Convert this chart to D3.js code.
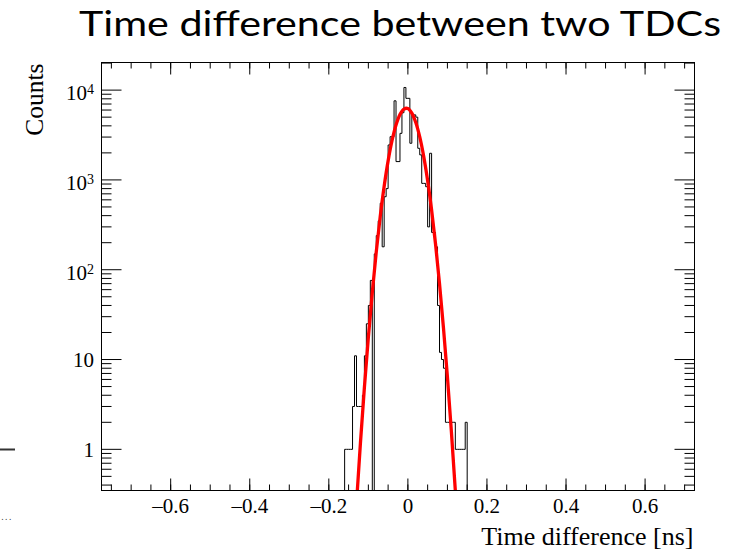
<!DOCTYPE html>
<html>
<head>
<meta charset="utf-8">
<script src="https://cdn.jsdelivr.net/npm/d3@7"></script>
<style>
  body { margin: 0; background: #fff; }
  svg { display: block; }
  .tick line { stroke: #000; }
</style>
</head>
<body>
<svg width="732" height="552"></svg>
<script>
// histogram range, as booked
var histMin = -0.775, histMax = 0.725;
var yMin = 0.348, yMax = 20300;

// filled bins (0.005 ns wide) starting at histLow, counts
var histLow = -0.160;
var binWidth = 0.005;
var counts = [1, 1, 1, 1, 3, 11, 3, 3, 3, 4,
              11, 25, 40, 76, 0, 150, 240, 350, 550, 180,
              650, 800, 2450, 3030, 3030, 7600, 1600, 1600, 3300, 5600,
              10700, 8100, 8100, 2560, 5300, 5300, 5000, 2250, 1900, 915,
              915, 840, 300, 1980, 260, 260, 180, 40, 12, 10,
              8, 2, 2, 2, 2, 2, 1, 1, 1, 1,
              1, 2, 0];

// gaussian fit curve
var fitX = [-0.14, -0.13, -0.12, -0.11, -0.10, -0.09, -0.08, -0.07, -0.06, -0.05,
            -0.04, -0.03, -0.02, -0.01, 0.00, 0.01, 0.02, 0.03, 0.04, 0.05,
            0.06, 0.07, 0.08, 0.09, 0.10, 0.11, 0.12, 0.13];
var fitY = [0.047, 0.25, 1.18, 4.9, 17.6, 56, 158, 390, 850, 1630,
            2750, 4090, 5350, 6150, 6240, 5560, 4360, 3010, 1830, 980,
            462, 192, 70, 22.5, 6.4, 1.58, 0.347, 0.067];

var xMajor = [-0.6, -0.4, -0.2, 0, 0.2, 0.4, 0.6];
var yMajor = [1, 10, 100, 1000, 10000];
var yLabels = [["1", ""], ["10", ""], ["10", "2"], ["10", "3"], ["10", "4"]];

(function() {
  var svg = d3.select("svg");

  var fLeft = 101.5, fRight = 694.5, fTop = 62.5, fBottom = 490.5;

  var x = d3.scaleLinear().domain([histMin, histMax]).range([fLeft, fRight]);
  var y = d3.scaleLog().domain([yMin, yMax]).range([fBottom, fTop]);

  var xMinor = d3.range(-15, 15).map(function(i) { return i * 0.05; })
      .filter(function(v) { return v > histMin && v < histMax; });
  var yMinor = [];
  [0.1, 1, 10, 100, 1000, 10000].forEach(function(dec) {
    for (var k = 2; k <= 9; k++) {
      var v = k * dec;
      if (v > yMin && v < yMax) yMinor.push(v);
    }
  });

  svg.append("defs").append("clipPath").attr("id", "frame")
    .append("rect")
      .attr("x", fLeft).attr("y", fTop)
      .attr("width", fRight - fLeft).attr("height", fBottom - fTop);

  // title
  svg.append("text")
      .attr("x", 79).attr("y", 36)
      .attr("textLength", 642)
      .attr("lengthAdjust", "spacingAndGlyphs")
      .style("font-family", "Lato, sans-serif")
      .style("font-size", "34px")
      .text("Time difference between two TDCs");

  // histogram outline
  var hist = counts.map(function(c, i) {
    return {lo: histLow + i * binWidth, hi: histLow + (i + 1) * binWidth, c: c};
  });
  function yc(c) { return c > yMin ? y(c) : fBottom; }
  var pts = [[x(histMin), fBottom], [x(histLow), fBottom]];
  hist.forEach(function(b) {
    pts.push([x(b.lo), yc(b.c)]);
    pts.push([x(b.hi), yc(b.c)]);
  });
  pts.push([x(hist[hist.length - 1].hi), fBottom]);
  pts.push([x(histMax), fBottom]);

  svg.append("path")
      .attr("clip-path", "url(#frame)")
      .attr("d", d3.line()(pts))
      .attr("fill", "none")
      .attr("stroke", "#000")
      .attr("stroke-width", 1);

  // fit
  var fit = fitX.map(function(v, i) { return [v, fitY[i]]; });
  svg.append("path")
      .attr("clip-path", "url(#frame)")
      .datum(fit)
      .attr("d", d3.line()
          .x(function(d) { return x(d[0]); })
          .y(function(d) { return y(d[1]); })
          .curve(d3.curveCatmullRom))
      .attr("fill", "none")
      .attr("stroke", "#ff0000")
      .attr("stroke-width", 3.3);

  // ticks, ROOT style (inside the frame, on all four sides)
  function ticks(axis, tx, ty) {
    var g = svg.append("g").attr("transform", "translate(" + tx + "," + ty + ")").call(axis);
    g.select(".domain").remove();
    return g;
  }
  ticks(d3.axisBottom(x).tickValues(xMajor).tickSize(-12).tickFormat("").offset(0), 0, fBottom);
  ticks(d3.axisBottom(x).tickValues(xMinor).tickSize(-6).tickFormat("").offset(0), 0, fBottom);
  ticks(d3.axisTop(x).tickValues(xMajor).tickSize(-12).tickFormat("").offset(0), 0, fTop);
  ticks(d3.axisTop(x).tickValues(xMinor).tickSize(-6).tickFormat("").offset(0), 0, fTop);
  ticks(d3.axisLeft(y).tickValues(yMajor).tickSize(-20).tickFormat("").offset(0), fLeft, 0);
  ticks(d3.axisLeft(y).tickValues(yMinor).tickSize(-10).tickFormat("").offset(0), fLeft, 0);
  ticks(d3.axisRight(y).tickValues(yMajor).tickSize(-20).tickFormat("").offset(0), fRight, 0);
  ticks(d3.axisRight(y).tickValues(yMinor).tickSize(-10).tickFormat("").offset(0), fRight, 0);

  // frame
  svg.append("rect")
      .attr("x", fLeft).attr("y", fTop)
      .attr("width", fRight - fLeft).attr("height", fBottom - fTop)
      .attr("fill", "none")
      .attr("stroke", "#000")
      .attr("stroke-width", 1);

  // x labels
  svg.append("g").selectAll("text")
      .data(xMajor)
    .enter().append("text")
      .attr("x", function(d) { return x(d); })
      .attr("y", 513)
      .attr("text-anchor", "middle")
      .style("font-family", "'Liberation Serif', serif")
      .style("font-size", "21px")
      .text(function(d) { return d < 0 ? "\u2013" + Math.abs(d) : "" + d; });

  // y labels with exponents
  var yl = svg.append("g").selectAll("text")
      .data(yMajor)
    .enter().append("text")
      .attr("x", 94)
      .attr("y", function(d, i) { return y(d) + (yLabels[i][1] ? 10 : 7.5); })
      .attr("text-anchor", "end")
      .style("font-family", "'Liberation Serif', serif")
      .style("font-size", "21px");
  yl.append("tspan").text(function(d, i) { return yLabels[i][0]; });
  yl.filter(function(d, i) { return yLabels[i][1] !== ""; })
    .append("tspan")
      .attr("dy", -6)
      .style("font-size", "14px")
      .text(function(d) { return yLabels[yMajor.indexOf(d)][1]; });

  // axis titles
  svg.append("text")
      .attr("x", fRight - 1).attr("y", 545)
      .attr("text-anchor", "end")
      .style("font-family", "'Liberation Serif', serif")
      .style("font-size", "26px")
      .text("Time difference [ns]");

  svg.append("text")
      .attr("transform", "translate(43," + (fTop + 1) + ") rotate(-90)")
      .attr("text-anchor", "end")
      .style("font-family", "'Liberation Serif', serif")
      .style("font-size", "25.5px")
      .text("Counts");

  // leftovers at the left edge of the canvas
  svg.append("line")
      .attr("x1", 0).attr("x2", 15)
      .attr("y1", 449.5).attr("y2", 449.5)
      .attr("stroke", "#333")
      .attr("stroke-width", 2);
  svg.append("text")
      .attr("x", 1).attr("y", 520)
      .style("font-family", "'DejaVu Sans', sans-serif")
      .style("font-size", "9px")
      .style("letter-spacing", "1px")
      .attr("fill", "#444")
      .text("...");
})();
</script>
</body>
</html>
